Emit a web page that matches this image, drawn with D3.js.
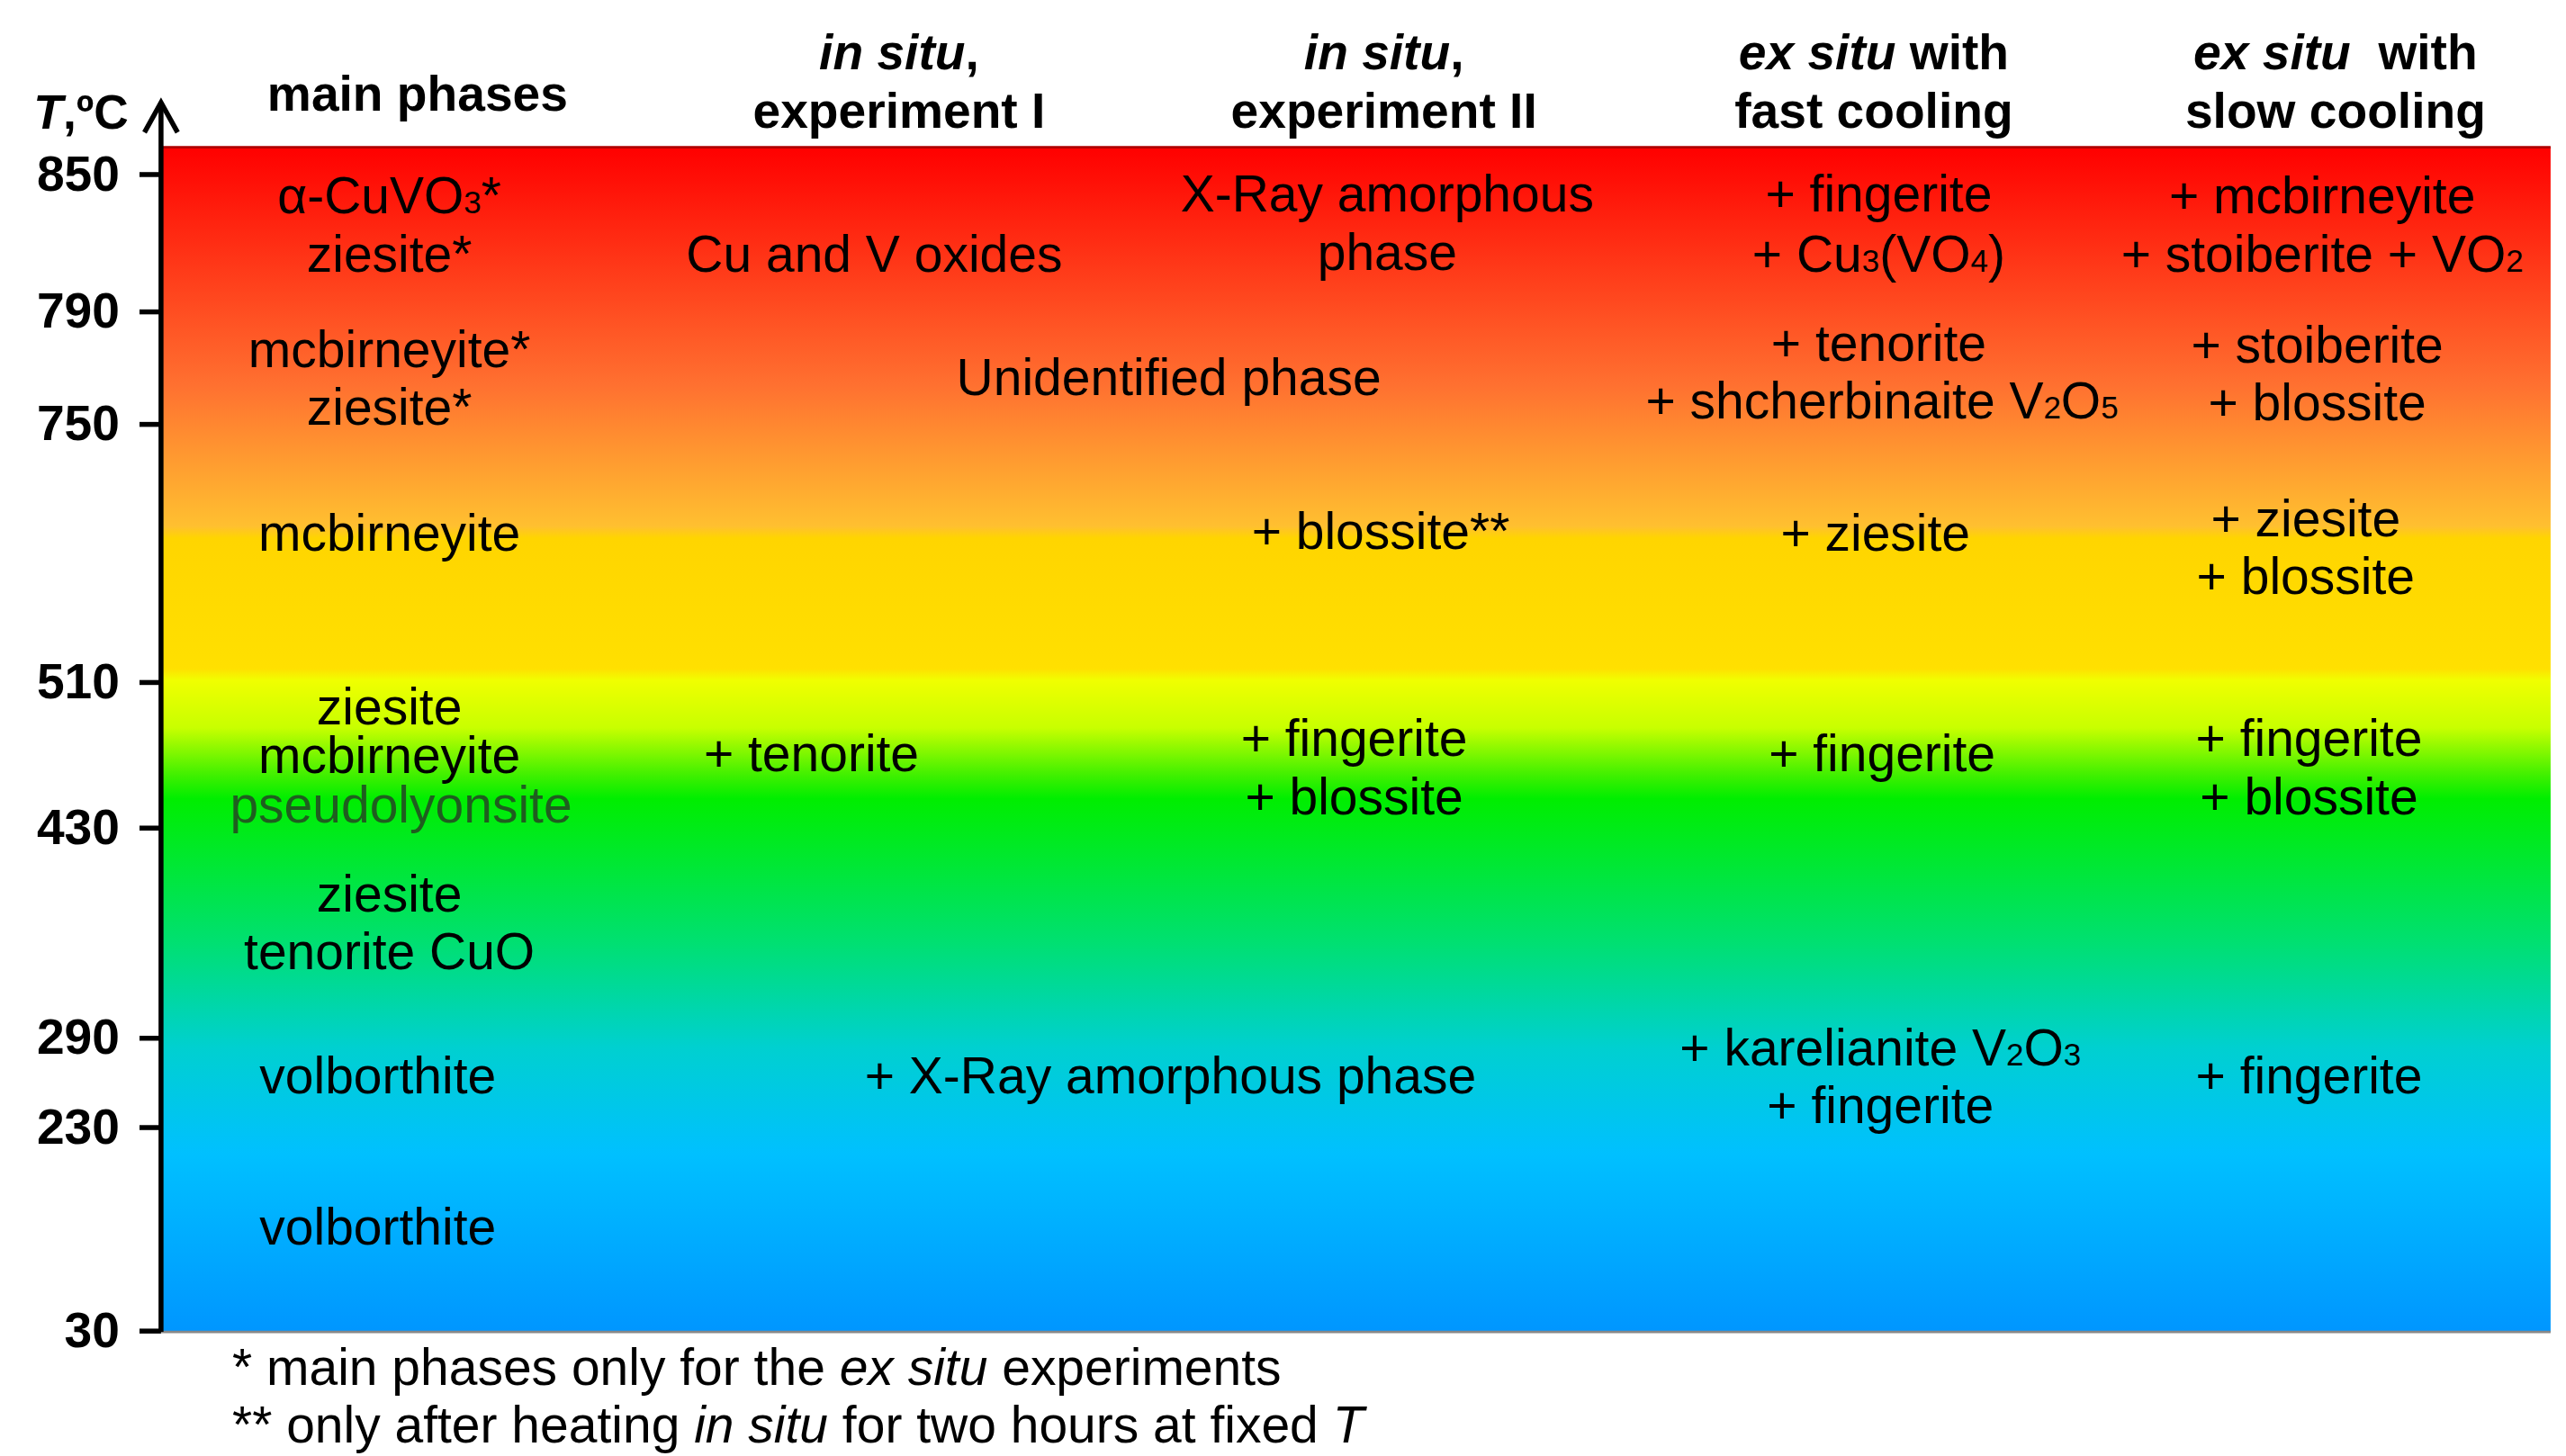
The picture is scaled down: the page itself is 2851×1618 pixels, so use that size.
<!DOCTYPE html>
<html><head><meta charset="utf-8">
<script src="https://cdn.jsdelivr.net/npm/d3@7"></script>
<style>body{margin:0;background:#fff}svg{display:block}text{font-family:"Liberation Sans",Arial,sans-serif}</style>
</head><body>
<svg id="chart" width="2851" height="1618" viewBox="0 0 1550 880"></svg>
<script>
// temperature ticks (axis is not linear, ticks are placed where the picture has them)
var tickValues = [850, 790, 750, 510, 430, 290, 230, 30];
var tickPos = [105, 188, 256, 412, 500, 627, 681, 804];

var colX = [235, 530, 838, 1135, 1408];

// header lines: [italic part, normal part]
var headers = [
  [["", "main phases"]],
  [["in situ", ","], ["", "experiment I"]],
  [["in situ", ","], ["", "experiment II"]],
  [["ex situ", " with"], ["", "fast cooling"]],
  [["ex situ", "  with"], ["", "slow cooling"]]
];

// labels: text with _x_ for subscripts, temperature where the line sits
var labels = [
  {c: 0, t: 840.6, s: "α-CuVO_3_*"}, {c: 0, t: 815.3, s: "ziesite*"},
  {c: 0, t: 776.5, s: "mcbirneyite*"}, {c: 0, t: 755.9, s: "ziesite*"},
  {c: 0, t: 648.5, s: "mcbirneyite"},
  {c: 0, t: 496.4, s: "ziesite"}, {c: 0, t: 470, s: "mcbirneyite"}, {c: 0, t: 442.7, s: "pseudolyonsite", dx: 7, col: "#1f5e1f"},
  {c: 0, t: 385.9, s: "ziesite"}, {c: 0, t: 347.3, s: "tenorite CuO"},
  {c: 0, t: 264.4, s: "volborthite", dx: -7}, {c: 0, t: 132.4, s: "volborthite", dx: -7},
  {c: 1, t: 815.3, s: "Cu and V oxides", dx: -2},
  {c: 1, t: 766.5, s: "Unidentified phase", dx: 176},
  {c: 1, t: 470.9, s: "+ tenorite", dx: -40},
  {c: 1, t: 264.4, s: "+ X-Ray amorphous phase", dx: 177},
  {c: 2, t: 841.3, s: "X-Ray amorphous"}, {c: 2, t: 816, s: "phase"},
  {c: 2, t: 650, s: "+ blossite**", dx: -4},
  {c: 2, t: 479.1, s: "+ fingerite", dx: -20}, {c: 2, t: 447.3, s: "+ blossite", dx: -20},
  {c: 3, t: 841.3, s: "+ fingerite"}, {c: 3, t: 815.3, s: "+ Cu_3_(VO_4_)"},
  {c: 3, t: 778.8, s: "+ tenorite"}, {c: 3, t: 758.2, s: "+ shcherbinaite V_2_O_5_", dx: 2},
  {c: 3, t: 648.5, s: "+ ziesite", dx: -2},
  {c: 3, t: 470.9, s: "+ fingerite", dx: 2},
  {c: 3, t: 283.3, s: "+ karelianite V_2_O_3_", dx: 1}, {c: 3, t: 244.4, s: "+ fingerite", dx: 1},
  {c: 4, t: 840.6, s: "+ mcbirneyite", dx: -5}, {c: 4, t: 815.3, s: "+ stoiberite + VO_2_", dx: -5},
  {c: 4, t: 778.2, s: "+ stoiberite", dx: -8}, {c: 4, t: 757.6, s: "+ blossite", dx: -8},
  {c: 4, t: 662.3, s: "+ ziesite", dx: -15}, {c: 4, t: 608.5, s: "+ blossite", dx: -15},
  {c: 4, t: 479.1, s: "+ fingerite", dx: -13}, {c: 4, t: 447.3, s: "+ blossite", dx: -13},
  {c: 4, t: 264.4, s: "+ fingerite", dx: -13}
];

var gradStops = [
  [0, "#ff0000"], [0.2, "#ff7030"], [0.32, "#ffc030"], [0.33, "#ffd500"], [0.44, "#ffe000"],
  [0.45, "#f0ff00"], [0.49, "#c8ff00"], [0.53, "#40f000"], [0.55, "#00ee00"], [0.67, "#00e070"],
  [0.76, "#00d0d0"], [0.85, "#00c0ff"], [1, "#0096ff"]
];

var svg = d3.select("#chart");
var y = d3.scaleLinear().domain(tickValues).range(tickPos);
var plotL = 97, plotR = 1541, plotT = 89, plotB = 805;

var grad = svg.append("defs").append("linearGradient").attr("id", "g")
  .attr("x1", 0).attr("y1", 0).attr("x2", 0).attr("y2", 1);
grad.selectAll("stop").data(gradStops).join("stop")
  .attr("offset", d => d[0]).attr("stop-color", d => d[1]);

svg.append("rect").attr("x", plotL).attr("y", plotT).attr("width", plotR - plotL).attr("height", plotB - plotT)
  .attr("fill", "url(#g)");
svg.append("line").attr("x1", plotL).attr("x2", plotR).attr("y1", plotT).attr("y2", plotT).attr("stroke", "#b00000").attr("stroke-width", 1.5);
svg.append("line").attr("x1", plotL).attr("x2", plotR).attr("y1", plotB).attr("y2", plotB).attr("stroke", "#888").attr("stroke-width", 1.5);

// axis
var axis = d3.axisLeft(y).tickValues(tickValues).tickSize(13).tickPadding(12);
var ax = svg.append("g").attr("transform", "translate(" + plotL + ",0)").call(axis);
ax.select(".domain").remove();
ax.selectAll(".tick line").attr("stroke-width", 3);
ax.selectAll(".tick text").attr("font-size", 30).attr("font-weight", "bold").attr("font-family", "Liberation Sans, Arial");
svg.append("line").attr("x1", plotL).attr("x2", plotL).attr("y1", 64).attr("y2", plotB).attr("stroke", "#000").attr("stroke-width", 3);
svg.append("path").attr("d", "M" + (plotL - 10) + ",80 L" + plotL + ",62 L" + (plotL + 10) + ",80")
  .attr("fill", "none").attr("stroke", "#000").attr("stroke-width", 3);
var tl = svg.append("text").attr("x", 20).attr("y", 78).attr("font-size", 29).attr("font-weight", "bold");
tl.append("tspan").attr("font-style", "italic").text("T");
tl.append("tspan").text(",ºC");

// headers
var headX = [252, 543, 836, 1132, 1411];
headers.forEach(function(h, i) {
  h.forEach(function(line, j) {
    var yy = h.length === 1 ? 67 : 42 + j * 35;
    var t = svg.append("text").attr("x", headX[i]).attr("y", yy).attr("text-anchor", "middle")
      .attr("font-size", 30).attr("font-weight", "bold").attr("xml:space", "preserve");
    if (line[0]) t.append("tspan").attr("font-style", "italic").text(line[0]);
    t.append("tspan").text(line[1]);
  });
});

// cell labels
labels.forEach(function(d) {
  var t = svg.append("text").attr("x", colX[d.c] + (d.dx || 0)).attr("y", y(d.t) + 11)
    .attr("text-anchor", "middle").attr("font-size", 31).attr("fill", d.col || "#000");
  d.s.split("_").forEach(function(part, k) {
    if (!part) return;
    if (k % 2 === 1) t.append("tspan").attr("font-size", 19).text(part);
    else t.append("tspan").text(part);
  });
});

// footnotes
var f1 = svg.append("text").attr("x", 140).attr("y", 837).attr("font-size", 31);
f1.append("tspan").text("* main phases only for the ");
f1.append("tspan").attr("font-style", "italic").text("ex situ");
f1.append("tspan").text(" experiments");
var f2 = svg.append("text").attr("x", 140).attr("y", 872).attr("font-size", 31);
f2.append("tspan").text("** only after heating ");
f2.append("tspan").attr("font-style", "italic").text("in situ");
f2.append("tspan").text(" for two hours at fixed ");
f2.append("tspan").attr("font-style", "italic").text("T");
</script>
</body></html>
